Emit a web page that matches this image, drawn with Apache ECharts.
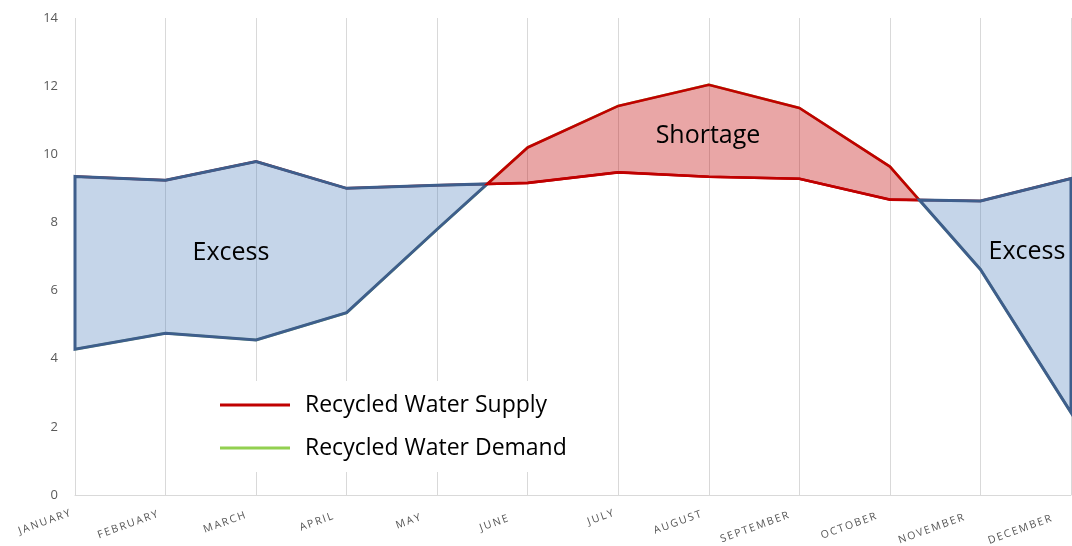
<!DOCTYPE html>
<html>
<head>
<meta charset="utf-8">
<script src="https://cdn.jsdelivr.net/npm/echarts@6/dist/echarts.min.js"></script>
<style>
  html, body { margin: 0; padding: 0; background: #ffffff; overflow: hidden; }
  #chart { width: 1072px; height: 546px; }
</style>
</head>
<body>
<div id="chart"></div>
<script>
// Monthly recycled water balance
const months = ['JANUARY', 'FEBRUARY', 'MARCH', 'APRIL', 'MAY', 'JUNE',
                'JULY', 'AUGUST', 'SEPTEMBER', 'OCTOBER', 'NOVEMBER', 'DECEMBER'];
const supply = [9.35, 9.24, 9.79, 9.0, 9.09, 9.16, 9.47, 9.34, 9.28, 8.67, 8.63, 9.29];
const demand = [4.28, 4.75, 4.55, 5.35, 7.8, 10.2, 11.42, 12.04, 11.36, 9.64, 6.62, 2.42];
const yTicks = [0, 2, 4, 6, 8, 10, 12, 14];
const seriesNames = ['Recycled Water Supply', 'Recycled Water Demand'];

// Split the band between the two lines into excess / shortage polygons,
// inserting the crossing points where supply and demand intersect.
function buildRegions(sup, dem) {
  const regions = [];
  let top = [[0, sup[0]]];
  let bot = [[0, dem[0]]];
  let sign = Math.sign(sup[0] - dem[0]);
  for (let i = 1; i < sup.length; i++) {
    const d0 = sup[i - 1] - dem[i - 1];
    const d1 = sup[i] - dem[i];
    if (Math.sign(d1) !== sign && d1 !== 0 && d0 !== 0) {
      const t = d0 / (d0 - d1);
      const cx = i - 1 + t;
      const cy = sup[i - 1] + t * (sup[i] - sup[i - 1]);
      top.push([cx, cy]);
      regions.push({ excess: sign > 0, points: top.concat(bot.slice().reverse()) });
      top = [[cx, cy]];
      bot = [];
      sign = Math.sign(d1);
    }
    top.push([i, sup[i]]);
    bot.push([i, dem[i]]);
  }
  regions.push({ excess: sign > 0, points: top.concat(bot.slice().reverse()) });
  return regions;
}
const regions = buildRegions(supply, demand);

// Month labels: letter-spaced caps, each nudged a little left of its tick
const LABEL_ROTATE = 20;
const spaced = s => s.split('').join('\u2009');
const monthRich = {};
months.forEach((m, i) => {
  const shift = 5 + 3 * (i % 6);
  monthRich['m' + i] = {
    fontFamily: 'Open Sans',
    fontSize: 10.5,
    color: '#555555',
    padding: [0, shift / Math.cos(LABEL_ROTATE * Math.PI / 180), 0, 0]
  };
});

const labelFont = { fontFamily: 'Open Sans', fontSize: 25, fill: '#000000', align: 'center', verticalAlign: 'middle' };

const chart = echarts.init(document.getElementById('chart'));
chart.setOption({
  animation: false,
  backgroundColor: '#ffffff',
  grid: { left: 75, right: 1, top: 18, bottom: 51, containLabel: false, outerBoundsMode: 'none' },
  xAxis: {
    type: 'value',
    min: 0,
    max: months.length - 1,
    interval: 1,
    axisLine: { show: true, lineStyle: { color: '#d9d9d9', width: 1 } },
    axisTick: { show: false },
    splitLine: { show: true, lineStyle: { color: '#d9d9d9', width: 1 } },
    axisLabel: {
      rotate: LABEL_ROTATE,
      margin: 16,
      showMinLabel: true,
      showMaxLabel: true,
      hideOverlap: false,
      formatter: v => '{m' + v + '|' + spaced(months[v] || '') + '}',
      rich: monthRich
    }
  },
  yAxis: {
    type: 'value',
    min: yTicks[0],
    max: yTicks[yTicks.length - 1],
    interval: 2,
    axisLine: { show: false },
    axisTick: { show: false },
    splitLine: { show: false },
    axisLabel: { color: '#595959', fontFamily: 'Open Sans', fontSize: 13, margin: 17 }
  },
  legend: {
    data: seriesNames,
    orient: 'vertical',
    left: 195,
    top: 381,
    padding: [10, 30, 10, 25],
    backgroundColor: '#ffffff',
    icon: 'rect',
    itemWidth: 70,
    itemHeight: 3,
    itemGap: 15,
    selectedMode: false,
    textStyle: {
      fontFamily: 'Open Sans',
      fontSize: 23,
      lineHeight: 28,
      color: '#000000',
      padding: [0, 0, 0, 10]
    }
  },
  series: [
    {
      name: seriesNames[0],
      type: 'line',
      data: supply.map((v, i) => [i, v]),
      symbol: 'none',
      color: '#c00000',
      lineStyle: { color: '#c00000', width: 2.5 },
      z: 2
    },
    {
      name: seriesNames[1],
      type: 'line',
      data: demand.map((v, i) => [i, v]),
      symbol: 'none',
      color: '#92d050',
      lineStyle: { color: '#92d050', width: 2.5 },
      z: 2
    },
    {
      name: 'balance',
      type: 'custom',
      silent: true,
      clip: false,
      z: 3,
      data: regions.map((r, i) => [i, 0]),
      renderItem: (params, api) => {
        const r = regions[params.dataIndex];
        return {
          type: 'polygon',
          shape: { points: r.points.map(p => api.coord(p)) },
          style: {
            fill: r.excess ? 'rgba(79,129,189,0.33)' : 'rgba(192,0,0,0.35)',
            stroke: r.excess ? '#3e5e8c' : '#c00000',
            lineWidth: r.excess ? 3 : 2.6,
            lineJoin: 'miter'
          }
        };
      }
    }
  ],
  graphic: [
    { type: 'text', x: 231, y: 253, z: 10, style: Object.assign({ text: 'Excess' }, labelFont) },
    { type: 'text', x: 708, y: 136, z: 10, style: Object.assign({ text: 'Shortage' }, labelFont) },
    { type: 'text', x: 1027, y: 252, z: 10, style: Object.assign({ text: 'Excess' }, labelFont) }
  ]
});
</script>
</body>
</html>
